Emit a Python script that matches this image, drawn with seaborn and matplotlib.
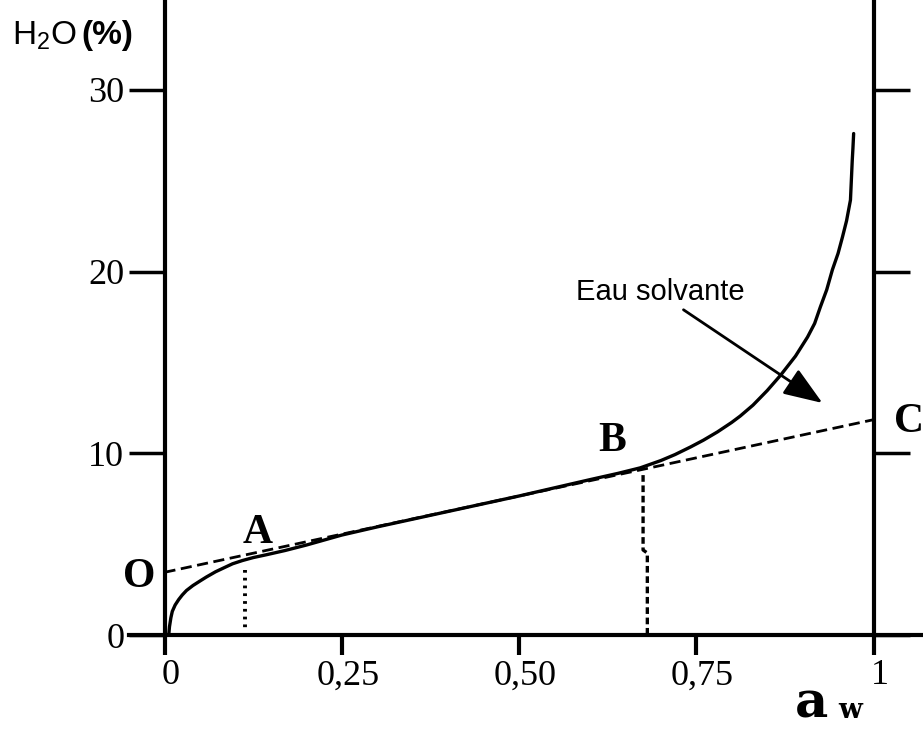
import numpy as np
import pandas as pd
import seaborn as sns
import matplotlib.pyplot as plt
import matplotlib.transforms as mtransforms

# Isotherme de sorption (lecture sur la figure)
aw_curve = [0.006, 0.007, 0.009, 0.011, 0.015, 0.020, 0.025, 0.031, 0.040, 0.050, 0.059,
            0.072, 0.085, 0.096, 0.11, 0.125, 0.144, 0.17, 0.20, 0.25, 0.30, 0.40,
            0.50, 0.55, 0.60, 0.64, 0.671, 0.70, 0.72, 0.742, 0.76, 0.78, 0.80, 0.812,
            0.83, 0.85, 0.869, 0.89, 0.907, 0.917, 0.925, 0.934, 0.942, 0.950,
            0.9562, 0.962, 0.9675, 0.970, 0.971, 0.972]
h2o_curve = [0.0, 0.45, 0.95, 1.3, 1.65, 1.95, 2.2, 2.45, 2.72, 2.97, 3.19,
             3.48, 3.72, 3.92, 4.1, 4.26, 4.42, 4.65, 4.95, 5.5, 5.95, 6.8,
             7.65, 8.1, 8.55, 8.9, 9.2, 9.6, 9.93, 10.35, 10.72, 11.18, 11.7, 12.05,
             12.65, 13.45, 14.3, 15.35, 16.4, 17.15, 18.05, 19.0, 20.1, 21.0,
             21.9, 22.8, 23.94, 26.1, 26.8, 27.6]

# Droite O -> C
aw_oc = [0.0, 1.0]
h2o_oc = [3.45, 11.85]

# Verticales en A et B
aw_a = [0.113, 0.113]
h2o_a = [3.6, 0.3]
aw_b = [0.675, 0.675, 0.681, 0.681]
h2o_b = [8.8, 4.68, 4.51, 0.1]

xticks = [0, 0.25, 0.5, 0.75, 1]
xlabels = ["0", "0,25", "0,50", "0,75", "1"]
yticks = [0, 10, 20, 30]
ylabels = ["0", "10", "20", "30"]

points = {"A": (0.131, 5.6), "B": (0.631, 10.7), "C": (1.05, 11.7), "O": (-0.035, 3.2)}

sns.set_theme(style="ticks", rc={"text.color": "black", "axes.labelcolor": "black",
                                 "xtick.color": "black", "ytick.color": "black",
                                 "axes.edgecolor": "black"})
plt.rcParams["font.family"] = ["Liberation Serif", "DejaVu Serif"]
plt.rcParams["mathtext.fontset"] = "custom"
plt.rcParams["mathtext.rm"] = "Liberation Sans"

fig = plt.figure(figsize=(9.23, 7.31), dpi=100)
ax = fig.add_axes([164.5 / 923, 96 / 731, (873.5 - 164.5) / 923, 635 / 731])

curve = pd.DataFrame({"aw": aw_curve, "h2o": h2o_curve})
sns.lineplot(data=curve, x="aw", y="h2o", color="black", linewidth=2.4, sort=False,
             estimator=None, ax=ax)
sns.lineplot(x=aw_oc, y=h2o_oc, color="black", linewidth=2.0, linestyle=(0, (4, 2)),
             sort=False, estimator=None, ax=ax)
sns.lineplot(x=aw_a, y=h2o_a, color="black", linewidth=2.8, linestyle=(0, (0.7, 1.3)),
             sort=False, estimator=None, ax=ax)
sns.lineplot(x=aw_b, y=h2o_b, color="black", linewidth=2.4, linestyle=(0, (2, 1.1)),
             sort=False, estimator=None, ax=ax)

ax.set_xlim(0, 1)
ax.set_ylim(0, 34.95)
ax.set_xlabel("")
ax.set_ylabel("")

for side in ["left", "right", "bottom"]:
    ax.spines[side].set_linewidth(3)
ax.spines["top"].set_visible(False)
ax.spines["bottom"].set_bounds(-0.05, 1.08)

ax.set_xticks(xticks)
ax.set_xticklabels(xlabels)
ax.set_yticks(yticks)
ax.set_yticklabels(ylabels)
ax.tick_params(axis="x", direction="out", length=14.5, width=3, pad=3, labelsize=26)
ax.tick_params(axis="y", direction="out", length=26, width=2.5, pad=3, labelsize=26,
               right=True)

# décalage léger des étiquettes x vers la droite
offset = mtransforms.ScaledTranslation(6 / 100, 0, fig.dpi_scale_trans)
for lab in ax.get_xticklabels():
    lab.set_transform(lab.get_transform() + offset)

for name, (px, py) in points.items():
    ax.text(px, py, name, fontsize=30, fontweight="bold", ha="center", va="center")

ax.text(-0.215, 33.0, "H$_{\\mathregular{2}}$O", fontsize=24, family="Liberation Sans",
        ha="left", va="center")
ax.text(-0.117, 33.0, "(%)", fontsize=24, family="Liberation Sans", fontweight="bold",
        ha="left", va="center")

ax.text(0.889, -4.55, "a", fontsize=37, fontweight="bold", family="DejaVu Serif",
        ha="left", va="baseline")
ax.text(0.950, -4.55, "w", fontsize=20, fontweight="bold", family="DejaVu Serif",
        ha="left", va="baseline")

ax.annotate("", xy=(0.928, 12.77), xytext=(0.732, 17.9),
            arrowprops=dict(arrowstyle="-|>,head_length=2.0,head_width=0.75",
                            color="black", linewidth=2, shrinkA=0, shrinkB=0))
ax.text(0.699, 18.9, "Eau solvante", fontsize=21, family="Liberation Sans",
        ha="center", va="center")

fig.savefig("out.png", dpi=100)
